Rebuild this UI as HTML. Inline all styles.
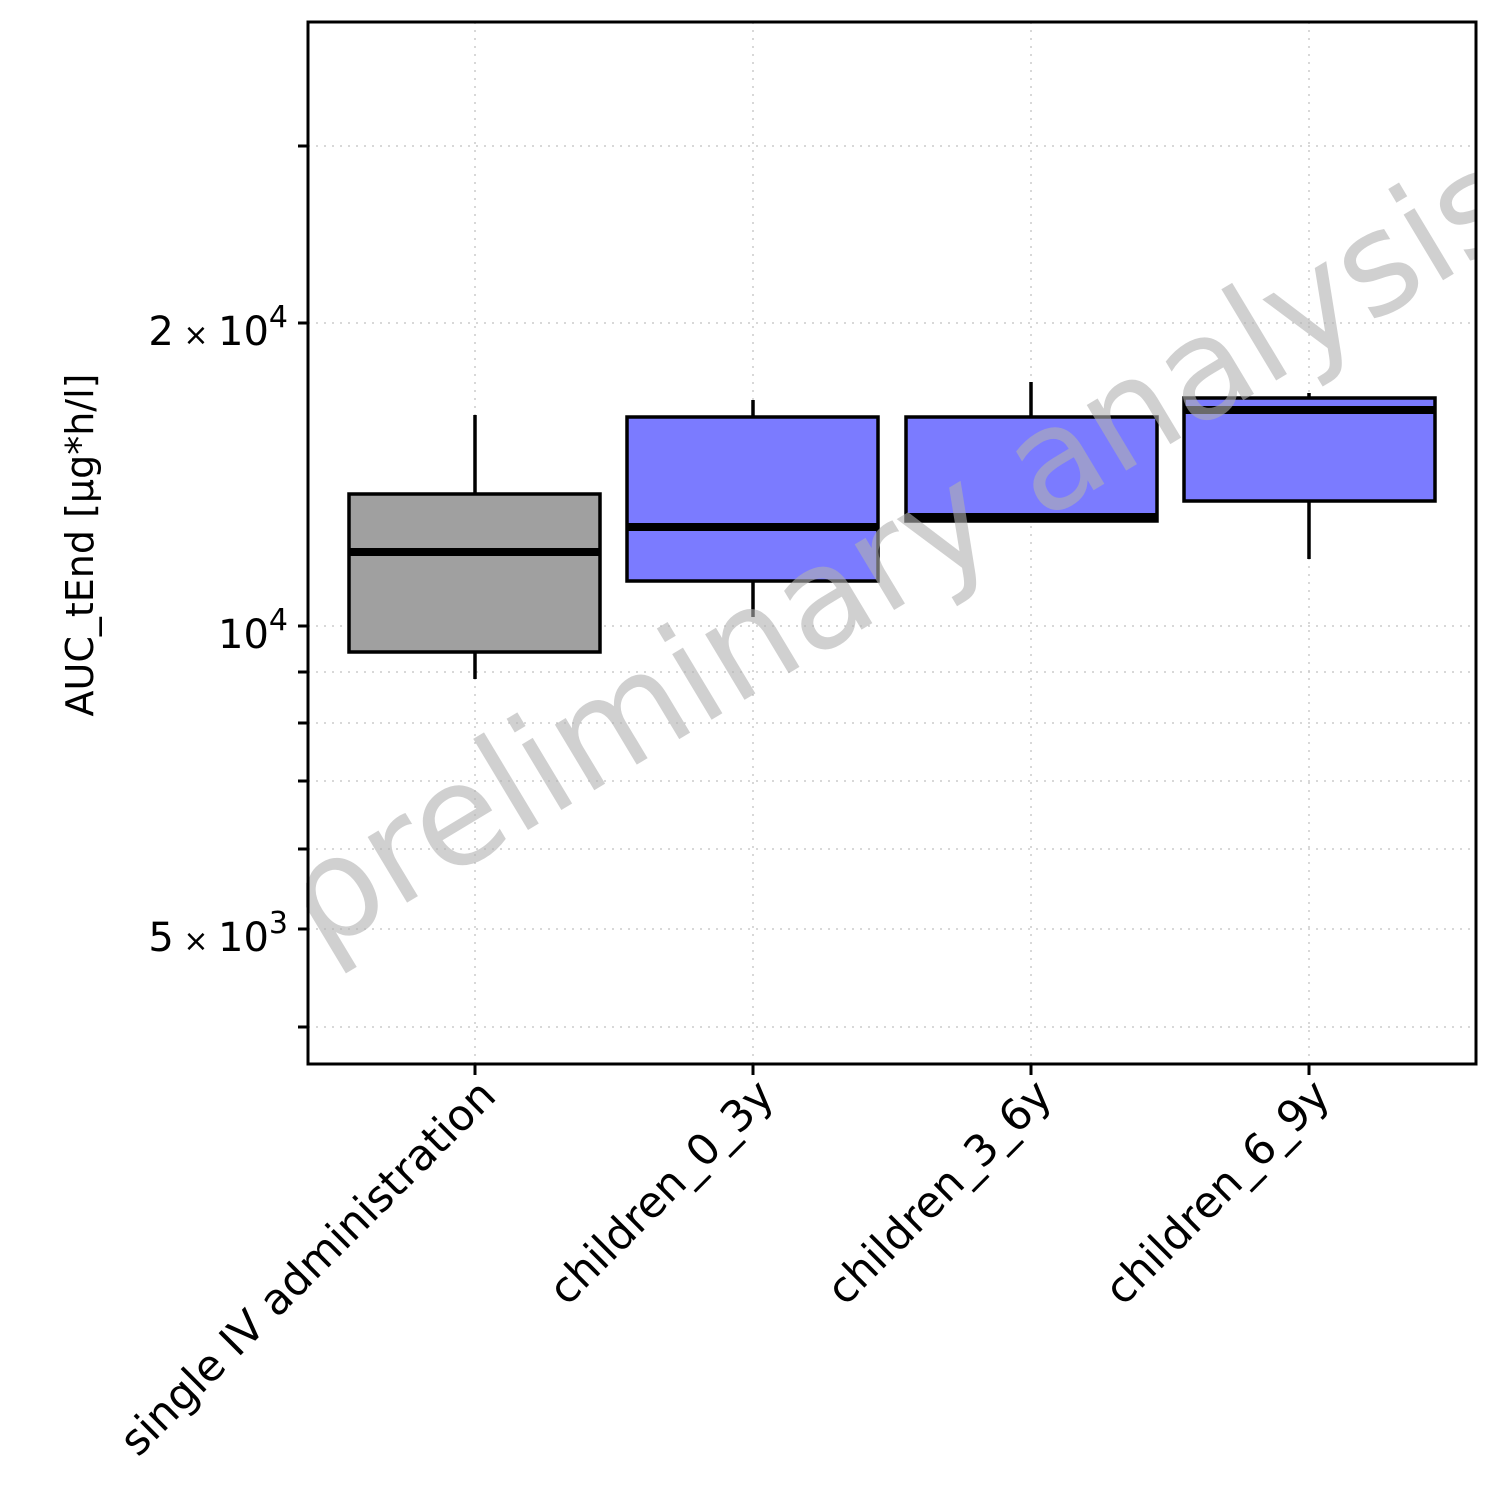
<!DOCTYPE html>
<html><head><style>body{margin:0;background:#fff}</style></head><body>
<svg width="1500" height="1500" xmlns="http://www.w3.org/2000/svg" font-family="DejaVu Sans, Liberation Sans, sans-serif">
<rect width="1500" height="1500" fill="#fff"/>
<g stroke="#ccc" stroke-width="1.5" stroke-dasharray="2,6">
<line x1="308" x2="1476" y1="146" y2="146"/><line x1="308" x2="1476" y1="323" y2="323"/>
<line x1="308" x2="1476" y1="626" y2="626"/><line x1="308" x2="1476" y1="672" y2="672"/>
<line x1="308" x2="1476" y1="723" y2="723"/><line x1="308" x2="1476" y1="781" y2="781"/>
<line x1="308" x2="1476" y1="849" y2="849"/><line x1="308" x2="1476" y1="929" y2="929"/>
<line x1="308" x2="1476" y1="1027" y2="1027"/>
<line x1="475" x2="475" y1="22" y2="1064"/><line x1="753" x2="753" y1="22" y2="1064"/>
<line x1="1031" x2="1031" y1="22" y2="1064"/><line x1="1309" x2="1309" y1="22" y2="1064"/>
</g>
<g stroke="#000" stroke-width="3.5">
<line x1="475" x2="475" y1="415" y2="679"/>
<rect x="349" y="494" width="251" height="158" fill="#a0a0a0"/>
<line x1="349" x2="600" y1="552" y2="552" stroke-width="8"/>
<line x1="753" x2="753" y1="400" y2="617"/>
<rect x="627" y="417" width="251" height="164" fill="#7b7bff"/>
<line x1="627" x2="878" y1="527" y2="527" stroke-width="8"/>
<line x1="1031" x2="1031" y1="382" y2="417"/>
<rect x="906" y="417" width="251" height="104" fill="#7b7bff"/>
<line x1="906" x2="1157" y1="517" y2="517" stroke-width="8"/>
<line x1="1309" x2="1309" y1="393" y2="559"/>
<rect x="1184" y="398" width="251" height="103" fill="#7b7bff"/>
<line x1="1184" x2="1435" y1="410" y2="410" stroke-width="8"/>
</g>
<text x="0" y="0" transform="translate(320,955) rotate(-31)" font-size="140" fill="#b0b0b0" fill-opacity="0.6">preliminary analysis</text>
<rect x="0" y="0" width="306" height="1500" fill="#fff"/>
<rect x="1477" y="0" width="23" height="1500" fill="#fff"/>
<rect x="308" y="0" width="1168" height="21" fill="#fff"/>
<rect x="308" y="1065" width="1168" height="435" fill="#fff"/>
<rect x="308" y="22" width="1168" height="1042" fill="none" stroke="#000" stroke-width="3"/>
<g stroke="#000" stroke-width="3">
<line x1="298" x2="308" y1="146" y2="146"/><line x1="298" x2="308" y1="323" y2="323"/>
<line x1="298" x2="308" y1="626" y2="626"/><line x1="298" x2="308" y1="672" y2="672"/>
<line x1="298" x2="308" y1="723" y2="723"/><line x1="298" x2="308" y1="781" y2="781"/>
<line x1="298" x2="308" y1="849" y2="849"/><line x1="298" x2="308" y1="929" y2="929"/>
<line x1="298" x2="308" y1="1027" y2="1027"/>
<line x1="475" x2="475" y1="1064" y2="1075"/><line x1="753" x2="753" y1="1064" y2="1075"/>
<line x1="1031" x2="1031" y1="1064" y2="1075"/><line x1="1309" x2="1309" y1="1064" y2="1075"/>
</g>
<g font-size="40" fill="#000" text-anchor="end">
<text x="288" y="345">2<tspan font-size="30"> × </tspan>10<tspan dy="-18" font-size="30">4</tspan></text>
<text x="288" y="648">10<tspan dy="-18" font-size="30">4</tspan></text>
<text x="288" y="951">5<tspan font-size="30"> × </tspan>10<tspan dy="-18" font-size="30">3</tspan></text>
</g>
<text transform="translate(93,545) rotate(-90)" font-size="38" text-anchor="middle">AUC_tEnd [µg*h/l]</text>
<g font-size="43" text-anchor="end">
<text transform="translate(498,1098) rotate(-45)">single IV administration</text>
<text transform="translate(776,1098) rotate(-45)">children_0_3y</text>
<text transform="translate(1054,1098) rotate(-45)">children_3_6y</text>
<text transform="translate(1332,1098) rotate(-45)">children_6_9y</text>
</g>
</svg>
</body></html>
